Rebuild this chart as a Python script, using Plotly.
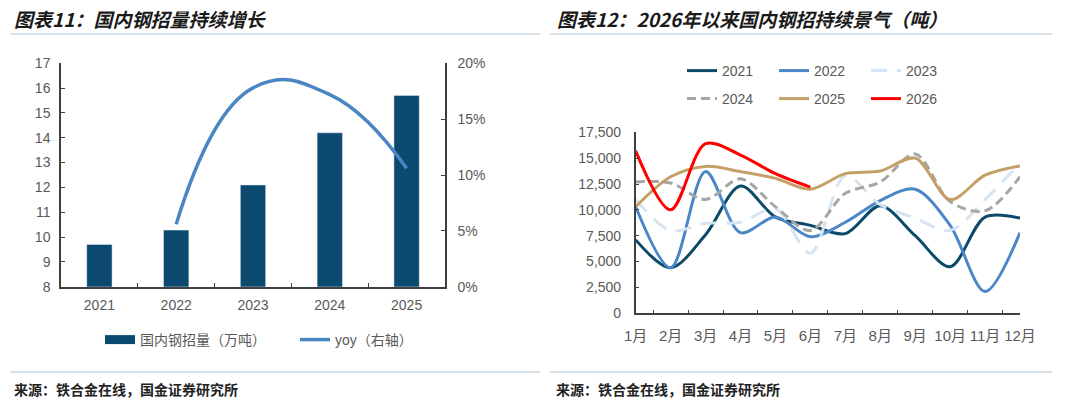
import plotly.graph_objects as go

# ---------------- data ----------------
years = ["2021", "2022", "2023", "2024", "2025"]
steel_tender = [9.7, 10.28, 12.1, 14.2, 15.7]          # 万吨
yoy_years = ["2022", "2023", "2024", "2025"]
yoy = [0.056, 0.178, 0.172, 0.106]

months = ["1月", "2月", "3月", "4月", "5月", "6月", "7月", "8月", "9月", "10月", "11月", "12月"]
s2021 = [7100, 4400, 7600, 12300, 9300, 8500, 7700, 10400, 7500, 4500, 9300, 9200]
s2022 = [10300, 4400, 13700, 7800, 9300, 7400, 8800, 10900, 12000, 8500, 2100, 7800]
s2023 = [11000, 8000, 8700, 8800, 10100, 5800, 13300, 10500, 9200, 8000, 11000, 14500]
s2024 = [12700, 12600, 11000, 13000, 10300, 8000, 11600, 12700, 15400, 10800, 9900, 13200]
s2025 = [10300, 13200, 14200, 13700, 13050, 12000, 13500, 13750, 15000, 11000, 13350, 14250]
s2026 = [15700, 10000, 16400, 15300, 13500, 12200]

W, H = 1080, 406
def px(x): return x / W
def py(y): return 1 - y / H

AXC = "#404040"
TXT = "#595959"
FONT = "Liberation Sans, Arial, Noto Sans CJK SC, sans-serif"
NAVY = "#0b4a6e"

fig = go.Figure()

# ----- left chart -----
fig.add_trace(go.Bar(x=years, y=steel_tender, marker_color=NAVY, width=0.33,
                     xaxis="x", yaxis="y", showlegend=False, name="国内钢招量（万吨）"))
fig.add_trace(go.Scatter(x=[None], y=[None], mode="lines", line=dict(color=NAVY, width=9),
                         name="国内钢招量（万吨）", xaxis="x", yaxis="y", legend="legend"))
fig.add_trace(go.Scatter(x=yoy_years, y=yoy, mode="lines", line=dict(color="#4a86c4", width=3.5, shape="spline", smoothing=1.3),
                         name="yoy（右轴）", xaxis="x", yaxis="y2", legend="legend"))

# ----- right chart -----
series = [
    ("2021", s2021, dict(color="#0b4a6a", width=3)),
    ("2022", s2022, dict(color="#4b87c6", width=3)),
    ("2023", s2023, dict(color="#d6e4f1", width=3, dash="16px,10px")),
    ("2024", s2024, dict(color="#a6a6a6", width=3, dash="9px,5px")),
    ("2025", s2025, dict(color="#c4a067", width=3)),
    ("2026", s2026, dict(color="#ff0000", width=3)),
]
for i, (nm, vals, ln) in enumerate(series):
    ln = dict(ln, shape="spline", smoothing=0.9)
    fig.add_trace(go.Scatter(x=months[:len(vals)], y=vals, mode="lines", line=ln, name=nm,
                             xaxis="x2", yaxis="y3", legend="legend2" if i < 3 else "legend3"))

tickfont = dict(family=FONT, size=14, color=TXT)
LEGFONT = dict(family=FONT, size=14, color=TXT)

fig.update_layout(
    width=W, height=H,
    margin=dict(l=0, r=0, t=0, b=0, autoexpand=False),
    paper_bgcolor="white", plot_bgcolor="white",
    font=dict(family=FONT, color=TXT),
    xaxis=dict(domain=[px(61), px(445)], anchor="y", showline=True, linecolor=AXC, linewidth=1.5,
               ticks="inside", ticklen=4, tickcolor=AXC, tickson="boundaries", tickfont=tickfont,
               showgrid=False, fixedrange=True, automargin=False, tickangle=0, ticklabelstandoff=5),
    yaxis=dict(domain=[py(286.7), py(63.3)], anchor="x", range=[8, 17], dtick=1, showline=True,
               linecolor=AXC, linewidth=1.5, ticks="inside", ticklen=4, tickcolor=AXC,
               showgrid=False, zeroline=False, tickfont=tickfont, ticklabelstandoff=6, automargin=False),
    yaxis2=dict(overlaying="y", side="right", anchor="x", range=[0, 0.2], dtick=0.05, tickformat=".0%",
                showline=True, linecolor=AXC, linewidth=1.5, ticks="inside", ticklen=4, tickcolor=AXC,
                showgrid=False, zeroline=False, tickfont=tickfont, ticklabelstandoff=8, automargin=False),
    xaxis2=dict(domain=[px(635.7), px(1020)], anchor="y3", showline=True, linecolor=AXC, linewidth=1.5,
                ticks="inside", ticklen=4, tickcolor=AXC, tickson="boundaries", tickangle=0,
                tickfont=dict(family=FONT, size=15, color=TXT), showgrid=False, ticklabelstandoff=8,
                automargin=False),
    yaxis3=dict(domain=[py(313.3), py(132.3)], anchor="x2", range=[0, 17500], dtick=2500, tickformat=",",
                showline=True, linecolor=AXC, linewidth=1.5, ticks="inside", ticklen=4, tickcolor=AXC,
                showgrid=False, zeroline=False, tickfont=tickfont, ticklabelstandoff=10, automargin=False),
    legend=dict(orientation="h", x=px(100), y=py(340), xanchor="left", yanchor="middle",
                font=LEGFONT, entrywidth=150, entrywidthmode="pixels",
                bgcolor="rgba(0,0,0,0)", traceorder="normal"),
    legend2=dict(orientation="h", x=px(682), y=py(71), xanchor="left", yanchor="middle",
                 font=LEGFONT, entrywidth=47, entrywidthmode="pixels",
                 bgcolor="rgba(0,0,0,0)", traceorder="normal"),
    legend3=dict(orientation="h", x=px(682), y=py(99), xanchor="left", yanchor="middle",
                 font=LEGFONT, entrywidth=47, entrywidthmode="pixels",
                 bgcolor="rgba(0,0,0,0)", traceorder="normal"),
)

TFONT = dict(family="Noto Sans CJK SC, sans-serif", size=19, color="#1a1a1a", weight="bold", style="italic")
SFONT = dict(family="Noto Sans CJK SC, sans-serif", size=14, color="#222222", weight="bold")
fig.add_annotation(text="图表11：国内钢招量持续增长", xref="paper", yref="paper", x=px(12), y=py(18),
                   xanchor="left", yanchor="middle", showarrow=False, font=TFONT)
fig.add_annotation(text="图表12：2026年以来国内钢招持续景气（吨）", xref="paper", yref="paper", x=px(555), y=py(18),
                   xanchor="left", yanchor="middle", showarrow=False, font=TFONT)
fig.add_annotation(text="来源：铁合金在线，国金证券研究所", xref="paper", yref="paper", x=px(12), y=py(389),
                   xanchor="left", yanchor="middle", showarrow=False, font=SFONT)
fig.add_annotation(text="来源：铁合金在线，国金证券研究所", xref="paper", yref="paper", x=px(554), y=py(389),
                   xanchor="left", yanchor="middle", showarrow=False, font=SFONT)

LC = "#c9d7e2"
for (x0, x1) in [(10, 540), (550, 1052)]:
    for yy in (34, 372):
        fig.add_shape(type="line", xref="paper", yref="paper", x0=px(x0), x1=px(x1), y0=py(yy), y1=py(yy),
                      line=dict(color=LC, width=1.5))

fig.write_html("out.html", config={"displayModeBar": False},
               post_script="document.body.style.margin='0';document.body.style.overflow='hidden';")
